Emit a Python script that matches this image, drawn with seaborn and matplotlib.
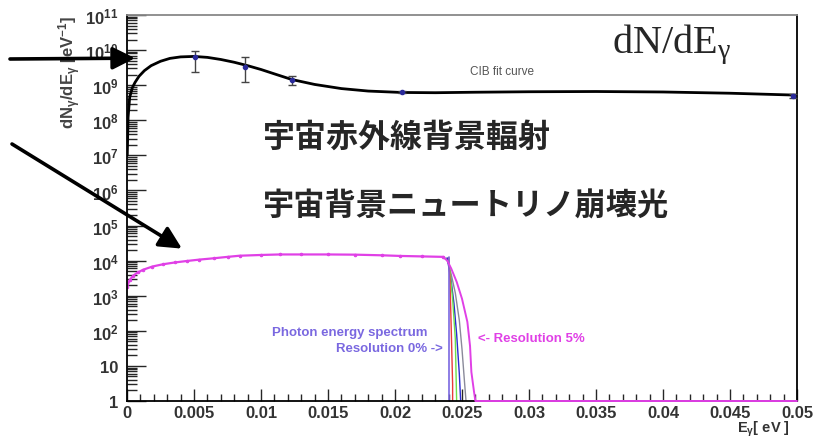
import numpy as np
import matplotlib
matplotlib.use("Agg")
import matplotlib.pyplot as plt
import matplotlib.ticker as mticker
import seaborn as sns

# CIB fit curve (black)
cib_x = [0.00002, 0.00008, 0.0002, 0.0004, 0.0006, 0.0009, 0.0013, 0.0018, 0.0025, 0.0032,
         0.004, 0.005, 0.006, 0.007, 0.008, 0.009, 0.010, 0.011, 0.0123, 0.014,
         0.016, 0.018, 0.0205, 0.023, 0.026, 0.030, 0.035, 0.040, 0.045, 0.050]
cib_y = [1e7, 1.2e8, 4.5e8, 8.5e8, 1.2e9, 1.8e9, 2.6e9, 3.6e9, 4.8e9, 5.8e9,
         6.4e9, 6.6e9, 6.2e9, 5.4e9, 4.5e9, 3.6e9, 2.8e9, 2.1e9, 1.45e9, 1.05e9,
         8.0e8, 6.8e8, 6.2e8, 6.1e8, 6.3e8, 6.5e8, 6.6e8, 6.4e8, 5.9e8, 5.2e8]

# CIB data points with error bars
pt_x = [0.0051, 0.0088, 0.0123, 0.0205, 0.0497]
pt_y = [6.3e9, 3.4e9, 1.4e9, 6.3e8, 4.8e8]
pt_lo = [2.3e9, 1.2e9, 1.0e9, 5.8e8, 4.2e8]
pt_hi = [9.2e9, 6.2e9, 1.8e9, 6.8e8, 5.5e8]

# neutrino decay photon spectrum (magenta) up to the cutoff
nu_x = [0.0, 0.0002, 0.00045, 0.0008, 0.0012, 0.0019, 0.0027, 0.0036, 0.0045, 0.0054, 0.0065,
        0.0075, 0.0084, 0.0100, 0.0114, 0.0130, 0.0150, 0.0170, 0.0190, 0.0204, 0.0220, 0.0236]
nu_y = [1.8e3, 2.8e3, 3.7e3, 4.6e3, 5.5e3, 6.8e3, 7.9e3, 8.9e3, 9.8e3, 1.07e4, 1.17e4,
        1.28e4, 1.38e4, 1.45e4, 1.5e4, 1.5e4, 1.5e4, 1.48e4, 1.42e4, 1.36e4, 1.32e4, 1.28e4]

# cutoff edges for different energy resolutions
res0_x = [0.0240, 0.0240]
res0_y = [1.3e4, 1.0]
red_x = [0.0240, 0.0241, 0.0242, 0.0243, 0.0243]
red_y = [1.2e4, 3e3, 100, 3, 1.0]
green_x = [0.0240, 0.0241, 0.0243, 0.0245, 0.0246]
green_y = [1.2e4, 5e3, 800, 60, 1.0]
blue_x = [0.0239, 0.0240, 0.0242, 0.0244, 0.0246, 0.0248, 0.0249]
blue_y = [1.2e4, 7e3, 2.5e3, 600, 80, 6, 1.0]
gray_x = [0.0238, 0.0240, 0.0242, 0.0245, 0.0248, 0.0250, 0.0252, 0.0253]
gray_y = [1.2e4, 8e3, 4e3, 1.2e3, 200, 30, 3, 1.0]
res5_x = [0.0236, 0.0239, 0.0242, 0.0246, 0.0250, 0.0254, 0.0256, 0.0257, 0.0259, 0.0260, 0.0500]
res5_y = [1.25e4, 1.0e4, 5.9e3, 2.5e3, 820, 180, 37, 6.7, 1.8, 1.0, 1.0]

xtick_vals = [0, 0.005, 0.01, 0.015, 0.02, 0.025, 0.03, 0.035, 0.04, 0.045, 0.05]
xtick_labels = ["0", "0.005", "0.01", "0.015", "0.02", "0.025", "0.03", "0.035", "0.04", "0.045", "0.05"]
ytick_vals = [1, 10, 1e2, 1e3, 1e4, 1e5, 1e6, 1e7, 1e8, 1e9, 1e10, 1e11]
ytick_labels = ["1", "10"] + [r"$10^{%d}$" % k for k in range(2, 12)]

sns.set_style("white")
plt.rcParams["font.family"] = ["Liberation Sans", "DejaVu Sans"]
plt.rcParams["mathtext.default"] = "regular"

magenta = "#e040e6"
slate = "#7a68e0"

fig = plt.figure(figsize=(8.22, 4.39), dpi=100)
ax = fig.add_axes([127 / 822, 1 - 402 / 439, 670 / 822, 386 / 439])

# neutrino spectrum and resolution variants
sns.lineplot(x=nu_x, y=nu_y, ax=ax, color=magenta, lw=1.6, estimator=None, sort=False,
             marker="o", ms=1.8, mec=magenta)
sns.lineplot(x=gray_x, y=gray_y, ax=ax, color="#8a8a9a", lw=1.0, estimator=None, sort=False)
sns.lineplot(x=blue_x, y=blue_y, ax=ax, color="#2a2ad0", lw=1.0, estimator=None, sort=False)
sns.lineplot(x=green_x, y=green_y, ax=ax, color="#6ee04a", lw=1.0, estimator=None, sort=False)
sns.lineplot(x=red_x, y=red_y, ax=ax, color="#e83a3a", lw=1.0, estimator=None, sort=False)
sns.lineplot(x=res0_x, y=res0_y, ax=ax, color=slate, lw=1.2, estimator=None, sort=False)
sns.lineplot(x=res5_x, y=res5_y, ax=ax, color=magenta, lw=1.4, estimator=None, sort=False,
             clip_on=False, zorder=5)

# CIB fit curve and points
sns.lineplot(x=cib_x, y=cib_y, ax=ax, color="black", lw=2.0, estimator=None, sort=False)
yerr = [np.array(pt_y) - np.array(pt_lo), np.array(pt_hi) - np.array(pt_y)]
ax.errorbar(pt_x, pt_y, yerr=yerr, fmt="o", ms=3, color="#2a2a9a", ecolor="#444444",
            elinewidth=1.0, capsize=3, zorder=6)

ax.set_yscale("log")
ax.set_xlim(0, 0.05)
ax.set_ylim(1, 1e11)

ax.xaxis.set_major_locator(mticker.FixedLocator(xtick_vals))
ax.xaxis.set_major_formatter(mticker.FixedFormatter(xtick_labels))
ax.xaxis.set_minor_locator(mticker.MultipleLocator(0.001))
ax.yaxis.set_major_locator(mticker.FixedLocator(ytick_vals))
ax.yaxis.set_major_formatter(mticker.FixedFormatter(ytick_labels))
ax.yaxis.set_minor_locator(mticker.LogLocator(base=10, subs=np.arange(2, 10), numticks=100))
ax.yaxis.set_minor_formatter(mticker.NullFormatter())

ax.tick_params(axis="x", which="major", direction="in", length=9, width=1.0, pad=3,
               labelsize=12, labelcolor="#333333", bottom=True, top=False)
ax.tick_params(axis="x", which="minor", direction="in", length=5, width=1.0, bottom=True, top=False)
ax.tick_params(axis="y", which="major", direction="in", length=14, width=1.0, pad=6,
               labelsize=12, labelcolor="#333333", left=True, right=False)
ax.tick_params(axis="y", which="minor", direction="in", length=7, width=1.0, left=True, right=False)
for lbl in ax.get_xticklabels() + ax.get_yticklabels():
    lbl.set_fontweight("bold")

for side in ["left", "bottom", "right"]:
    ax.spines[side].set_color("black")
    ax.spines[side].set_linewidth(1.3)
ax.spines["top"].set_color("#888888")
ax.spines["top"].set_linewidth(1.3)

ax.set_ylabel(r"dN$_{\gamma}$/dE$_{\gamma}$ [eV$^{-1}$]", loc="top", fontsize=12,
              fontweight="bold", color="#444444")
ax.yaxis.set_label_coords(-0.066, 1.0)
ax.set_xlabel(r"E$_{\gamma}$[ eV ]", loc="right", fontsize=10.5, fontweight="bold", color="#333333")
ax.xaxis.set_label_coords(0.99, -0.047)

# labels inside the plot
ax.text(0.56, 0.854, "CIB fit curve", transform=ax.transAxes, fontsize=8.5, color="#555555",
        ha="center", va="center")
ax.text((672 - 127) / 670, (402 - 45) / 386, r"dN/dE$_{\gamma}$", transform=ax.transAxes, fontsize=29,
        family="Liberation Serif", ha="center", va="center", math_fontfamily="stix")
cjk = ["Noto Sans CJK JP", "DejaVu Sans"]
ax.text((263 - 127) / 670, (402 - 138) / 386, "宇宙赤外線背景輻射", transform=ax.transAxes,
        fontsize=23, family=cjk, fontweight="bold", ha="left", va="center")
ax.text((263 - 127) / 670, (402 - 207) / 386, "宇宙背景ニュートリノ崩壊光", transform=ax.transAxes,
        fontsize=22.5, family=cjk, fontweight="bold", ha="left", va="center")
ax.text((427 - 127) / 670, (402 - 333) / 386, "Photon energy spectrum", transform=ax.transAxes,
        fontsize=9.5, fontweight="bold", color=slate, ha="right", va="center")
ax.text((443 - 127) / 670, (402 - 349) / 386, "Resolution 0% ->", transform=ax.transAxes,
        fontsize=9.5, fontweight="bold", color=slate, ha="right", va="center")
ax.text((478 - 127) / 670, (402 - 339) / 386, "<- Resolution 5%", transform=ax.transAxes,
        fontsize=9.5, fontweight="bold", color=magenta, ha="left", va="center")

# arrows pointing at the two spectra
arrow = dict(arrowstyle="-|>", lw=2.6, mutation_scale=34, color="black", shrinkA=0, shrinkB=0)
ax.annotate("", xy=(0.0006, 5.9e9), xycoords="data",
            xytext=((10 - 127) / 670, (402 - 60) / 386), textcoords="axes fraction",
            arrowprops=arrow, annotation_clip=False)
ax.annotate("", xy=(0.0041, 2.2e4), xycoords="data",
            xytext=((12 - 127) / 670, (402 - 145) / 386), textcoords="axes fraction",
            arrowprops=arrow, annotation_clip=False)

fig.savefig("out.png", dpi=100)
